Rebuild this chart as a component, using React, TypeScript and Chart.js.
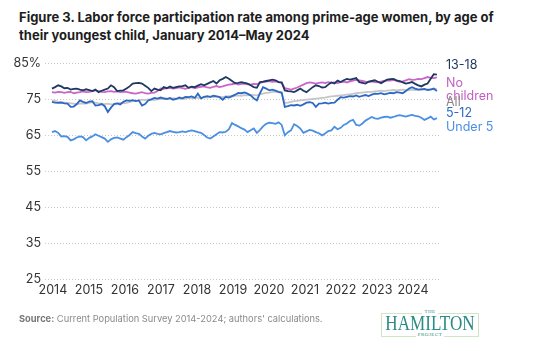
import React, { useEffect, useRef } from "react";
import { Chart, registerables } from "chart.js";

Chart.register(...registerables);

// Year tick labels (x axis)
const YEARS = ["2014", "2015", "2016", "2017", "2018", "2019", "2020", "2021", "2022", "2023", "2024"];
// y ticks
const Y_MIN = 25;
const Y_MAX = 85;
const Y_STEP = 10;

// Monthly values, Jan 2014 – May 2024 (125 months)
const AGE_13_18 = [
  77.9, 78.3, 78.8, 78.5, 78.0, 78.1, 77.6, 77.8, 77.9, 77.6, 77.4, 77.7,
  77.5, 77.2, 77.6, 76.9, 77.3, 77.6, 77.9, 78.8, 78.3, 77.2, 77.3, 77.4,
  77.9, 78.5, 79.3, 79.4, 79.5, 79.3, 78.7, 78.1, 77.2, 77.9, 77.6, 77.4,
  78.3, 78.0, 78.5, 78.1, 78.3, 78.5, 78.6, 78.8, 78.1, 78.4, 78.3, 78.7,
  79.1, 78.8, 79.2, 79.6, 80.0, 79.3, 80.2, 80.6, 81.1, 80.6, 80.0, 79.4,
  79.5, 79.7, 79.5, 79.3, 78.8, 78.3, 78.1, 79.7, 79.8, 80.0, 80.2, 80.4,
  80.2, 79.7, 79.6, 77.4, 77.2, 77.1, 76.9, 77.4, 77.9, 77.3, 76.9, 77.6,
  78.3, 78.8, 78.6, 78.2, 78.3, 79.0, 79.6, 79.3, 80.1, 79.7, 80.2, 80.6,
  80.4, 80.6, 80.8, 79.7, 79.5, 79.3, 79.8, 80.0, 80.2, 79.8, 79.4, 79.9,
  80.4, 80.5, 80.6, 80.2, 80.0, 79.6, 79.3, 79.5, 79.7, 79.2, 78.8, 78.5,
  79.0, 79.3, 80.6, 81.9, 81.8,
];

const NO_CHILDREN = [
  76.9, 76.8, 77.0, 76.9, 76.7, 76.9, 77.0, 76.6, 76.8, 76.9, 77.1, 76.9,
  77.0, 77.2, 77.4, 77.2, 77.0, 76.9, 77.1, 77.2, 77.0, 77.1, 76.9, 77.0,
  77.0, 76.8, 76.6, 76.5, 76.7, 76.9, 76.6, 76.5, 76.7, 76.8, 77.2, 77.9,
  77.8, 78.0, 78.1, 77.9, 78.0, 78.2, 78.0, 77.8, 78.1, 78.3, 78.0, 78.2,
  78.4, 78.5, 78.2, 78.1, 78.4, 78.6, 78.3, 78.5, 78.8, 79.0, 79.1, 79.3,
  79.0, 79.2, 79.3, 79.1, 79.0, 79.2, 79.1, 79.5, 79.7, 79.8, 80.0, 79.8,
  79.9, 79.7, 79.5, 78.0, 77.8, 77.6, 77.9, 78.2, 78.6, 79.0, 79.4, 79.6,
  79.5, 79.3, 79.5, 79.6, 79.4, 79.7, 79.5, 79.6, 79.4, 79.7, 79.8, 79.6,
  79.9, 80.1, 80.3, 80.2, 80.0, 79.8, 79.7, 79.9, 79.7, 79.6, 79.8, 80.0,
  80.2, 80.1, 80.3, 80.0, 79.8, 79.9, 80.2, 80.5, 80.3, 80.4, 80.6, 80.5,
  80.8, 81.1, 80.9, 80.8, 81.0,
];

const ALL = [
  74.6, 74.5, 74.3, 74.2, 74.0, 73.9, 73.8, 73.7, 73.6, 73.7, 73.8, 73.7,
  73.9, 74.1, 74.0, 73.8, 73.7, 73.6, 73.7, 73.5, 73.6, 73.8, 73.9, 73.8,
  73.9, 74.1, 74.4, 74.5, 74.6, 74.8, 74.7, 74.9, 74.8, 74.7, 74.9, 75.0,
  75.0, 75.1, 75.0, 75.2, 75.1, 75.2, 75.0, 75.1, 75.3, 75.2, 75.3, 75.4,
  75.3, 75.5, 75.4, 75.6, 75.5, 75.7, 75.6, 75.5, 75.7, 75.8, 75.7, 75.9,
  76.0, 75.9, 76.1, 76.0, 76.2, 76.1, 76.0, 76.3, 76.5, 76.7, 76.8, 77.0,
  77.0, 76.9, 76.6, 73.9, 74.0, 74.2, 74.4, 74.5, 74.6, 74.7, 74.8, 74.9,
  75.0, 75.1, 75.2, 75.3, 75.4, 75.6, 75.7, 75.8, 75.9, 76.0, 76.1, 76.2,
  76.3, 76.4, 76.6, 76.7, 76.8, 76.9, 77.0, 77.0, 77.1, 77.2, 77.3, 77.2,
  77.3, 77.4, 77.5, 77.4, 77.5, 77.6, 77.5, 77.4, 77.6, 77.5, 77.6, 77.7,
  77.6, 77.7, 77.8, 77.7, 77.8,
];

const AGE_5_12 = [
  74.2, 74.0, 73.9, 74.0, 73.8, 73.7, 72.8, 72.9, 73.6, 74.6, 74.2, 73.9,
  74.3, 74.4, 73.2, 73.3, 73.6, 73.0, 71.4, 72.6, 73.6, 73.8, 73.5, 74.2,
  74.6, 74.5, 74.7, 74.4, 74.6, 73.2, 73.6, 74.6, 74.9, 75.3, 75.1, 75.4,
  75.2, 75.0, 75.3, 74.8, 75.0, 75.4, 75.2, 75.6, 75.5, 75.7, 75.3, 76.5,
  75.2, 75.6, 75.8, 75.6, 75.9, 75.7, 75.5, 74.8, 75.6, 75.4, 75.8, 76.2,
  76.7, 76.6, 76.8, 76.5, 76.0, 75.2, 74.6, 76.6, 78.3, 77.9, 77.4, 77.6,
  77.3, 77.0, 76.8, 72.8, 73.0, 73.3, 73.2, 73.4, 73.1, 73.5, 74.0, 74.1,
  73.9, 72.8, 73.7, 73.8, 74.0, 73.7, 73.9, 74.0, 74.8, 75.5, 75.4, 75.6,
  75.8, 75.7, 76.0, 75.6, 75.9, 76.1, 75.8, 76.2, 76.5, 76.4, 76.6, 76.3,
  76.5, 76.7, 76.6, 76.9, 76.8, 76.6, 77.2, 77.9, 78.3, 77.9, 77.6, 77.7,
  77.8, 77.5, 77.6, 77.9, 77.2,
];

const UNDER_5 = [
  65.8, 66.1, 65.6, 64.6, 64.7, 64.5, 63.5, 63.8, 64.3, 64.6, 64.4, 63.5,
  64.2, 64.6, 65.2, 64.8, 64.4, 64.0, 63.1, 63.8, 64.2, 64.3, 64.0, 63.7,
  64.4, 65.0, 65.8, 65.5, 65.3, 64.6, 64.0, 64.8, 65.3, 65.6, 65.3, 65.2,
  65.5, 65.8, 66.1, 65.9, 65.7, 65.8, 66.0, 65.8, 66.1, 66.3, 66.1, 65.8,
  65.6, 65.0, 64.3, 64.0, 64.6, 65.2, 65.8, 65.7, 65.9, 66.6, 68.3, 67.8,
  67.4, 66.9, 66.5, 65.8, 66.3, 66.8, 65.6, 66.4, 67.4, 68.1, 68.4, 68.3,
  68.1, 68.5, 67.8, 64.9, 65.8, 66.3, 68.0, 67.5, 66.8, 65.6, 66.0, 66.4,
  66.2, 65.8, 65.5, 64.9, 65.4, 66.1, 66.3, 67.3, 66.6, 67.0, 67.8, 68.2,
  68.9, 69.2, 67.8, 67.6, 68.2, 69.0, 69.5, 70.0, 69.6, 69.5, 69.8, 70.0,
  70.1, 69.8, 70.0, 70.3, 70.5, 70.3, 70.1, 70.4, 70.6, 70.3, 70.2, 69.8,
  69.2, 69.6, 70.1, 69.3, 69.7,
];

const SERIES_NAMES = ["13-18", "No children", "5-12", "Under 5", "All"];
const COLORS = {
  a1318: "#1e3763",
  none: "#c966c9",
  a512: "#2d69c4",
  u5: "#4b8fe3",
  all: "#c6c6c6",
};

const toPoints = (arr: number[]) => arr.map((v, i) => ({ x: i, y: v }));

const FONT = "Inter, 'Noto Sans', sans-serif";

export default function App() {
  const ref = useRef<HTMLCanvasElement | null>(null);

  useEffect(() => {
    document.body.style.margin = "0";
    const canvas = ref.current!;
    const chart = new Chart(canvas, {
      type: "line",
      data: {
        datasets: [
          { label: SERIES_NAMES[0], data: toPoints(AGE_13_18), borderColor: COLORS.a1318 },
          { label: SERIES_NAMES[1], data: toPoints(NO_CHILDREN), borderColor: COLORS.none },
          { label: SERIES_NAMES[2], data: toPoints(AGE_5_12), borderColor: COLORS.a512 },
          { label: SERIES_NAMES[3], data: toPoints(UNDER_5), borderColor: COLORS.u5 },
          { label: SERIES_NAMES[4], data: toPoints(ALL), borderColor: COLORS.all },
        ].map((d) => ({ ...d, borderWidth: 1.8, pointRadius: 0, tension: 0, fill: false })),
      },
      options: {
        responsive: false,
        animation: false,
        devicePixelRatio: 1,
        layout: { padding: { top: 63, left: 0, right: 100, bottom: 47 } },
        plugins: { legend: { display: false }, tooltip: { enabled: false } },
        scales: {
          x: {
            type: "linear",
            min: -2.25,
            max: 125,
            afterFit: (s: any) => {
              s.height = 25;
            },
            afterBuildTicks: (s: any) => {
              s.ticks = YEARS.map((_, i) => ({ value: i * 11.6 + 0.3 }));
            },
            ticks: {
              autoSkip: false,
              maxRotation: 0,
              padding: 4,
              color: "#333",
              font: { family: FONT, size: 12.5 },
              callback: (_v: any, i: number) => YEARS[i],
            },
            grid: { display: false, drawTicks: false },
            border: { display: false },
          },
          y: {
            min: Y_MIN,
            max: Y_MAX,
            afterFit: (s: any) => {
              s.width = 45;
            },
            ticks: {
              stepSize: Y_STEP,
              padding: 4,
              color: "#333",
              font: { family: FONT, size: 12.5 },
              callback: (v: any) => (v === Y_MAX ? `${v}%` : `${v}`),
            },
            grid: { color: "#c8c8c8", lineWidth: 1, drawTicks: false },
            border: { display: false, dash: [1, 2] },
          },
        },
      },
    });
    return () => chart.destroy();
  }, []);

  const endLabel = (text: React.ReactNode, top: number, color: string) => (
    <div
      style={{
        position: "absolute",
        left: 446,
        top,
        color,
        fontSize: 12.5,
        lineHeight: "13px",
        fontFamily: FONT,
      }}
    >
      {text}
    </div>
  );

  return (
    <div
      style={{
        position: "relative",
        width: 540,
        height: 351,
        background: "#fff",
        overflow: "hidden",
        fontFamily: FONT,
      }}
    >
      <div
        style={{
          position: "absolute",
          left: 19,
          top: 8,
          width: 515,
          fontSize: 13,
          lineHeight: "18px",
          fontWeight: 700,
          color: "#1d1d1d",
          whiteSpace: "nowrap",
        }}
      >
        Figure 3. Labor force participation rate among prime-age women, by age of
        <br />
        their youngest child, January 2014–May 2024
      </div>
      <canvas ref={ref} width={540} height={351} style={{ position: "absolute", left: 0, top: 0 }} />
      {endLabel("13-18", 58, COLORS.a1318)}
      {endLabel(
        <>
          No
          <br />
          children
        </>,
        76,
        "#c25fc2"
      )}
      {endLabel("All", 95, "#8a8a8a")}
      {endLabel("5-12", 106, COLORS.a512)}
      {endLabel("Under 5", 120, COLORS.u5)}
      <div
        style={{
          position: "absolute",
          left: 19,
          top: 313,
          fontSize: 9.3,
          color: "#8a8a8a",
          whiteSpace: "nowrap",
        }}
      >
        <span style={{ fontWeight: 700, color: "#777" }}>Source:</span> Current Population Survey 2014-2024; authors'
        calculations.
      </div>
      <div
        style={{
          position: "absolute",
          left: 381,
          top: 313,
          width: 98,
          height: 24,
          border: "1px solid #cfe5c4",
          boxSizing: "border-box",
        }}
      />
      <div
        style={{
          position: "absolute",
          left: 381,
          top: 309,
          width: 98,
          textAlign: "center",
          fontFamily: "'Liberation Serif', 'DejaVu Serif', serif",
          color: "#2a8c83",
        }}
      >
        <div style={{ fontSize: 5, lineHeight: "6px", letterSpacing: 0.5 }}>
          <span style={{ background: "#fff", padding: "0 2px" }}>THE</span>
        </div>
        <div
          style={{
            fontSize: 18,
            lineHeight: "17px",
            letterSpacing: 0,
            transform: "scale(0.95, 1.15)",
          }}
        >
          HAMILTON
        </div>
        <div style={{ fontSize: 5, lineHeight: "6px", letterSpacing: 0.5 }}>
          <span style={{ background: "#fff", padding: "0 2px" }}>PROJECT</span>
        </div>
      </div>
    </div>
  );
}
